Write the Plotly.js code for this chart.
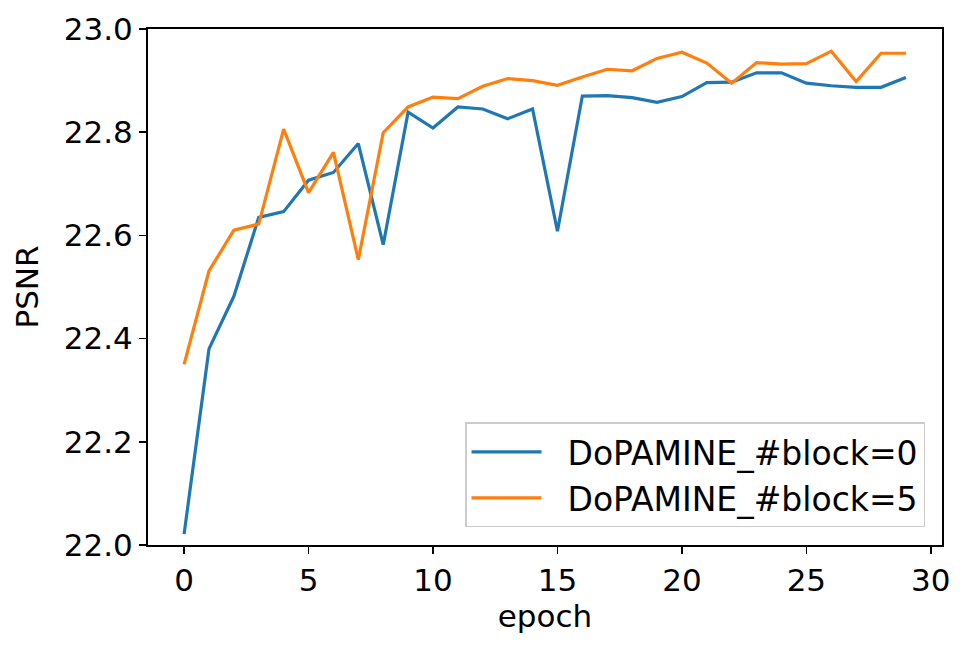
<!DOCTYPE html>
<html>
<head>
<meta charset="utf-8">
<script src="https://cdn.plot.ly/plotly-3.0.1.min.js"></script>
<style>html,body{margin:0;padding:0;background:#fff;}#chart{width:969px;height:652px;}</style>
</head>
<body>
<div id="chart"></div>
<script>
const epochs = [0,1,2,3,4,5,6,7,8,9,10,11,12,13,14,15,16,17,18,19,20,21,22,23,24,25,26,27,28,29];
const block0 = [22.021,22.380,22.482,22.635,22.646,22.707,22.722,22.778,22.582,22.839,
                22.808,22.849,22.845,22.826,22.845,22.608,22.870,22.871,22.867,22.858,
                22.869,22.896,22.897,22.915,22.915,22.895,22.890,22.887,22.887,22.906];
const block5 = [22.350,22.531,22.610,22.622,22.806,22.683,22.761,22.553,22.799,22.849,
                22.868,22.865,22.889,22.904,22.900,22.891,22.907,22.922,22.919,22.943,
                22.955,22.934,22.895,22.935,22.932,22.933,22.957,22.898,22.953,22.953];
const seriesNames = ['DoPAMINE_#block=0','DoPAMINE_#block=5'];
const xTicks = [0,5,10,15,20,25,30];
const yTicks = [22.0,22.2,22.4,22.6,22.8,23.0];

const FONT = 'DejaVu Sans, sans-serif';
const PAD = '\u00a0\u00a0';
const traces = [
  {x: epochs, y: block0, name: PAD + seriesNames[0], type: 'scatter', mode: 'lines',
   line: {color: '#1f77b4', width: 3.2}},
  {x: epochs, y: block5, name: PAD + seriesNames[1], type: 'scatter', mode: 'lines',
   line: {color: '#ff7f0e', width: 3.2}}
];
const axisCommon = {
  showline: true, linecolor: '#000', linewidth: 2, mirror: true,
  ticks: 'outside', ticklen: 7, tickwidth: 1.5, tickcolor: '#000',
  showgrid: false, zeroline: false,
  tickfont: {family: FONT, size: 31, color: '#000'}
};
const layout = {
  width: 969, height: 652,
  margin: {l: 148, r: 27, t: 29, b: 107},
  paper_bgcolor: '#fff', plot_bgcolor: '#fff',
  showlegend: true,
  xaxis: Object.assign({}, axisCommon, {
    range: [-1.45, 30.45], tickmode: 'array', tickvals: xTicks,
    ticktext: xTicks.map(String),
    title: {text: 'epoch', font: {family: FONT, size: 31, color: '#000'}, standoff: 8}
  }),
  yaxis: Object.assign({}, axisCommon, {
    range: [22.0, 23.0], tickmode: 'array', tickvals: yTicks,
    ticktext: yTicks.map(v => v.toFixed(1)),
    title: {text: 'PSNR', font: {family: FONT, size: 31, color: '#000'}, standoff: 16}
  }),
  legend: {
    x: 0.9786, y: 0.034, xanchor: 'right', yanchor: 'bottom',
    bgcolor: 'rgba(255,255,255,0.8)', bordercolor: '#cccccc', borderwidth: 1.5,
    font: {family: FONT, size: 33, color: '#000'},
    itemwidth: 70
  }
};
Plotly.newPlot('chart', traces, layout, {displayModeBar: false, staticPlot: true});
</script>
</body>
</html>
